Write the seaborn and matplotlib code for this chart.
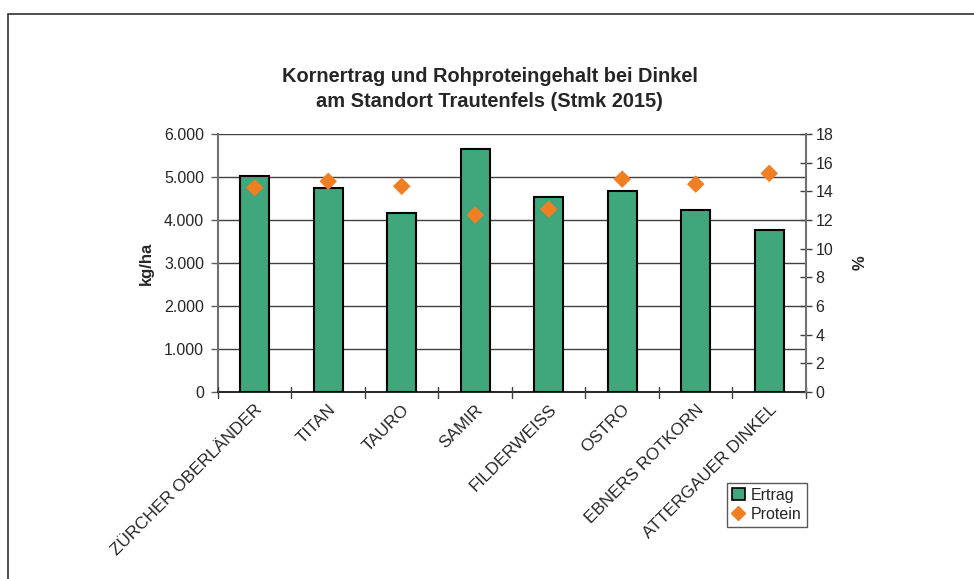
import pandas as pd
import seaborn as sns
import matplotlib.pyplot as plt
from matplotlib.patches import Rectangle, Patch
from matplotlib.lines import Line2D
from matplotlib.ticker import FuncFormatter, MultipleLocator

sorten = ['ZÜRCHER OBERLÄNDER', 'TITAN', 'TAURO', 'SAMIR', 'FILDERWEISS',
          'OSTRO', 'EBNERS ROTKORN', 'ATTERGAUER DINKEL']
ertrag = [5030, 4750, 4170, 5650, 4530, 4670, 4240, 3770]
protein = [14.25, 14.7, 14.35, 12.35, 12.75, 14.85, 14.5, 15.25]

df = pd.DataFrame({'Sorte': sorten, 'Ertrag': ertrag, 'Protein': protein})

sns.set_theme(style='white')
plt.rcParams['font.family'] = ['Liberation Sans', 'DejaVu Sans']

green = '#3fa77b'
orange = '#f07e22'

fig = plt.figure(figsize=(9.74, 5.79), dpi=100)
ax = fig.add_axes([0.2238, 0.3230, 0.6037, 0.4456])

# outer chart frame (cut off at right and bottom like the screenshot)
fig.patches.append(Rectangle((8 / 974, -0.1), 1.2, 1 - 14 / 579 + 0.1,
                             transform=fig.transFigure, fill=False,
                             edgecolor='#303030', lw=1.2, zorder=0))

for y in range(1000, 7000, 1000):
    ax.axhline(y, color='#404040', lw=1, zorder=0)

sns.barplot(data=df, x='Sorte', y='Ertrag', color=green, width=0.4,
            edgecolor='black', linewidth=1.5, saturation=1, ax=ax, zorder=2)
ax.set_ylim(0, 6000)
ax.set_xlim(-0.5, 7.5)
ax.yaxis.set_major_locator(MultipleLocator(1000))
ax.yaxis.set_major_formatter(FuncFormatter(lambda v, p: f'{int(v):,}'.replace(',', '.')))
ax.set_xlabel('')
ax.set_ylabel('kg/ha', fontsize=12, fontweight='bold', labelpad=7)
ax.set_xticks(range(len(sorten)))
ax.set_xticklabels(sorten, rotation=45, ha='right', rotation_mode='anchor', fontsize=12.3)
ax.tick_params(axis='x', length=0, pad=7)
ax.tick_params(axis='y', labelsize=11.5, direction='out', length=5, width=1,
               color='#606060', left=True, pad=5)
# category boundary ticks on the x axis
for b in range(len(sorten) + 1):
    ax.plot([b - 0.5, b - 0.5], [-0.025, 0.02], transform=ax.get_xaxis_transform(),
            color='#404040', lw=1, clip_on=False, zorder=3)
ax.spines['top'].set_visible(False)
ax.spines['left'].set_color('#707070')
ax.spines['left'].set_linewidth(1.5)
ax.spines['bottom'].set_color('black')
ax.spines['bottom'].set_linewidth(1.2)
ax.spines['right'].set_visible(False)

ax2 = ax.twinx()
sns.scatterplot(data=df, x='Sorte', y='Protein', marker='D', s=80, color=orange,
                edgecolor='none', ax=ax2, zorder=4, legend=False)
ax2.set_ylim(0, 18)
ax2.set_xlim(-0.5, 7.5)
ax2.yaxis.set_major_locator(MultipleLocator(2))
ax2.set_ylabel('%', fontsize=12, fontweight='bold', labelpad=14)
ax2.tick_params(axis='y', labelsize=11.5, direction='inout', length=8, width=1,
                color='#404040', right=True, pad=3)
for side in ['top', 'left', 'bottom']:
    ax2.spines[side].set_visible(False)
ax2.spines['right'].set_color('#707070')
ax2.spines['right'].set_linewidth(1.5)

fig.text(0.503, 0.846, 'Kornertrag und Rohproteingehalt bei Dinkel\nam Standort Trautenfels (Stmk 2015)',
         ha='center', va='center', fontsize=14.4, fontweight='bold', linespacing=1.4)

handles = [Patch(facecolor=green, edgecolor='black', lw=1.2, label='Ertrag'),
           Line2D([], [], marker='D', color=orange, ls='none', markersize=7, label='Protein')]
fig.legend(handles=handles, loc='upper left', bbox_to_anchor=(727 / 974, 1 - 483 / 579),
           fontsize=11.5, frameon=True, fancybox=False, edgecolor='#303030',
           handlelength=0.8, handleheight=0.8, handletextpad=0.4, borderpad=0.3,
           labelspacing=0.25, borderaxespad=0)

fig.savefig('out.png', dpi=100)
